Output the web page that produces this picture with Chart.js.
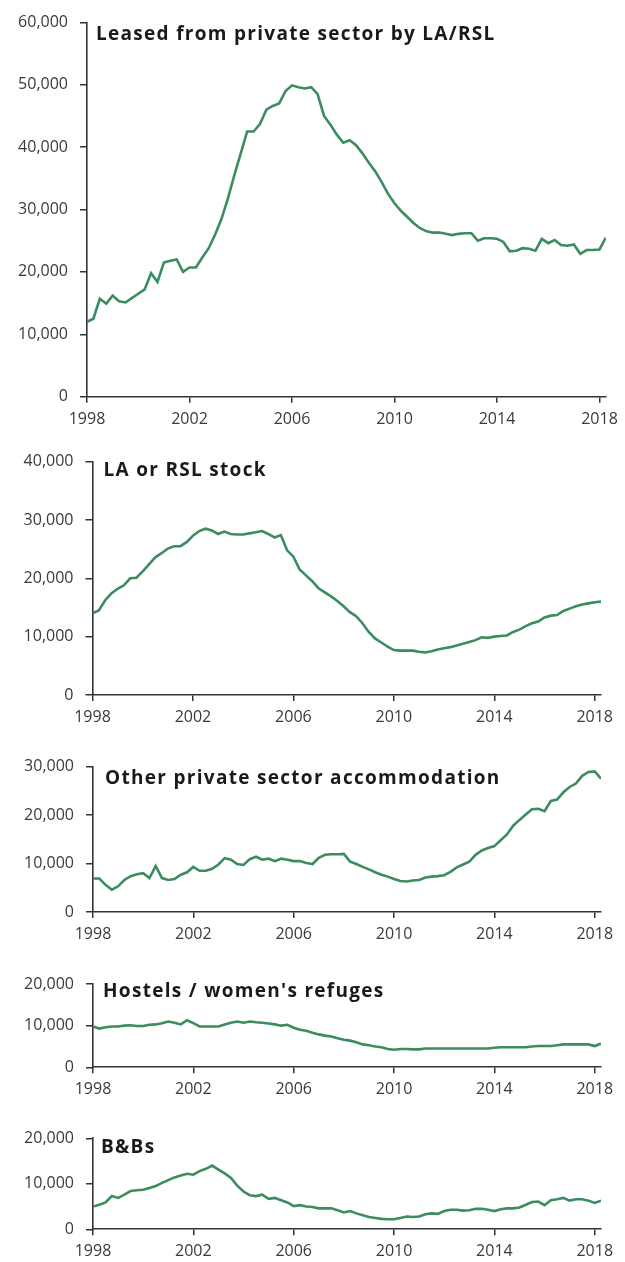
<!DOCTYPE html>
<html lang="en">
<head>
<meta charset="UTF-8">
<title>Temporary accommodation by type, 1998-2018</title>
<script src="https://cdn.jsdelivr.net/npm/chart.js"></script>
<style>
  body { margin: 0; background: #fff; }
  #wrap { position: relative; width: 625px; height: 1262px; }
  .panel { position: absolute; left: 0; width: 625px; }
</style>
</head>
<body>
<div id="wrap">
  <div class="panel" style="top:0px;height:440px"><canvas id="c1"></canvas></div>
  <div class="panel" style="top:440px;height:300px"><canvas id="c2"></canvas></div>
  <div class="panel" style="top:745px;height:210px"><canvas id="c3"></canvas></div>
  <div class="panel" style="top:960px;height:150px"><canvas id="c4"></canvas></div>
  <div class="panel" style="top:1115px;height:147px"><canvas id="c5"></canvas></div>
</div>

<script>
// quarterly points, 1998 Q1 .. 2018 Q2
const quarters = Array.from({ length: 82 }, (_, i) => 1998 + i / 4);
const yearTicks = [1998, 2002, 2006, 2010, 2014, 2018];

const leased = [
  12000, 12500, 15700, 14900, 16200, 15300, 15100, 15800, 16500, 17200,
  19800, 18400, 21500, 21800, 22000, 20000, 20700, 20700, 22300, 23800,
  26000, 28500, 31800, 35500, 39000, 42500, 42500, 43700, 46000, 46600,
  47000, 49000, 49900, 49600, 49400, 49600, 48500, 45000, 43600, 42000,
  40700, 41100, 40300, 39000, 37500, 36100, 34400, 32500, 31000, 29800,
  28800, 27800, 27000, 26500, 26300, 26300, 26100, 25900, 26100, 26200,
  26200, 25000, 25400, 25400, 25300, 24800, 23300, 23400, 23800, 23700,
  23400, 25300, 24600, 25100, 24300, 24200, 24400, 22900, 23500, 23500,
  23600, 25500
];
const laStock = [
  14000, 14500, 16200, 17400, 18200, 18800, 20000, 20100, 21200, 22400,
  23600, 24300, 25100, 25500, 25500, 26200, 27300, 28100, 28500, 28200,
  27600, 28000, 27600, 27500, 27500, 27700, 27900, 28100, 27600, 27000,
  27400, 24800, 23700, 21500, 20500, 19500, 18300, 17600, 16900, 16100,
  15200, 14200, 13500, 12300, 10800, 9700, 9000, 8300, 7700, 7600,
  7600, 7600, 7400, 7300, 7500, 7800, 8000, 8200, 8500, 8800,
  9100, 9400, 9900, 9800, 10000, 10100, 10200, 10800, 11200, 11800,
  12300, 12600, 13300, 13600, 13700, 14400, 14800, 15200, 15500, 15700,
  15900, 16000
];
const otherPrivate = [
  6900, 6900, 5600, 4600, 5300, 6600, 7400, 7800, 8000, 7000,
  9500, 7000, 6600, 6800, 7700, 8200, 9300, 8500, 8500, 8900,
  9800, 11100, 10800, 9900, 9700, 10900, 11400, 10800, 11000, 10500,
  11000, 10800, 10500, 10500, 10100, 9900, 11200, 11800, 11900, 11900,
  12000, 10400, 9900, 9300, 8800, 8200, 7700, 7300, 6800, 6400,
  6300, 6500, 6600, 7100, 7300, 7400, 7600, 8300, 9200, 9800,
  10400, 11800, 12700, 13200, 13600, 14800, 16000, 17800, 19000, 20100,
  21200, 21300, 20800, 22900, 23200, 24700, 25800, 26500, 28100, 28900,
  29000, 27500
];
const hostels = [
  9800, 9300, 9600, 9800, 9800, 10000, 10100, 9900, 9900, 10200,
  10300, 10600, 11000, 10700, 10300, 11300, 10600, 9800, 9800, 9800,
  9800, 10300, 10700, 11000, 10700, 11000, 10800, 10700, 10500, 10300,
  10000, 10200, 9500, 9000, 8800, 8300, 7900, 7600, 7400, 7000,
  6600, 6400, 6000, 5500, 5300, 5000, 4800, 4400, 4200, 4400,
  4400, 4300, 4300, 4500, 4500, 4500, 4500, 4500, 4500, 4500,
  4500, 4500, 4500, 4500, 4700, 4800, 4800, 4800, 4800, 4800,
  5000, 5100, 5100, 5100, 5300, 5500, 5500, 5500, 5500, 5500,
  5100, 5700
];
const bnb = [
  5000, 5400, 5900, 7300, 6900, 7600, 8400, 8600, 8700, 9100,
  9500, 10200, 10800, 11400, 11800, 12200, 12000, 12800, 13300, 14000,
  13100, 12300, 11300, 9600, 8300, 7500, 7300, 7600, 6700, 6900,
  6400, 5900, 5100, 5300, 5000, 4900, 4600, 4600, 4600, 4200,
  3700, 4000, 3500, 3100, 2700, 2500, 2300, 2200, 2200, 2500,
  2800, 2700, 2800, 3300, 3500, 3400, 4000, 4300, 4300, 4100,
  4200, 4500, 4500, 4300, 4000, 4400, 4600, 4600, 4800, 5400,
  6000, 6100, 5300, 6400, 6600, 6900, 6300, 6600, 6600, 6300,
  5800, 6300
];

const ticks60 = [0, 10000, 20000, 30000, 40000, 50000, 60000];
const ticks40 = [0, 10000, 20000, 30000, 40000];
const ticks30 = [0, 10000, 20000, 30000];
const ticks20 = [0, 10000, 20000];

const GREEN = '#3b8c5e';
const AXIS = '#333333';
const TEXT = '#3a3a3a';
const FONT = '"Open Sans", sans-serif';

// draws the panel heading inside the plot area, top left
const panelTitle = {
  id: 'panelTitle',
  afterDraw(chart, args, opts) {
    const { ctx, chartArea } = chart;
    ctx.save();
    ctx.font = 'bold 19px ' + FONT;
    if ('letterSpacing' in ctx) ctx.letterSpacing = '1.3px';
    ctx.fillStyle = '#1a1a1a';
    ctx.textBaseline = 'alphabetic';
    ctx.fillText(opts.text, chartArea.left + opts.dx, chartArea.top + opts.dy);
    ctx.restore();
  }
};

// box: canvas top/height and where the plot area sits on the page
function makePanel(id, title, values, yTicks, box) {
  new Chart(document.getElementById(id), {
    type: 'line',
    data: {
      datasets: [{
        data: quarters.map((q, i) => ({ x: q, y: values[i] })),
        borderColor: GREEN,
        borderWidth: 2.6,
        pointRadius: 0,
        tension: 0,
        fill: false
      }]
    },
    options: {
      responsive: true,
      maintainAspectRatio: false,
      animation: false,
      layout: { padding: { top: box.chartTop - box.top, right: 625 - box.right, bottom: 0, left: 0 } },
      plugins: {
        legend: { display: false },
        tooltip: { enabled: false },
        panelTitle: { text: title, dx: box.dx, dy: box.dy }
      },
      scales: {
        x: {
          type: 'linear',
          min: 1998,
          max: 2018.25,
          afterBuildTicks: s => { s.ticks = yearTicks.map(v => ({ value: v })); },
          afterFit: s => { s.height = box.top + box.height - box.chartBottom; },
          ticks: { callback: v => String(v), color: TEXT, font: { family: FONT, size: 16 }, padding: 7, maxRotation: 0, autoSkip: false },
          grid: { drawOnChartArea: false, drawTicks: true, tickLength: 6, color: AXIS, lineWidth: 1.5 },
          border: { display: true, color: AXIS, width: 1.6 }
        },
        y: {
          min: 0,
          max: yTicks[yTicks.length - 1],
          afterBuildTicks: s => { s.ticks = yTicks.map(v => ({ value: v })); },
          afterFit: s => { s.width = box.left; },
          ticks: { callback: v => v.toLocaleString('en-US'), color: TEXT, font: { family: FONT, size: 16 }, padding: 12 },
          grid: { drawOnChartArea: false, drawTicks: true, tickLength: 7, color: AXIS, lineWidth: 1.5 },
          border: { display: true, color: AXIS, width: 1.6 }
        }
      }
    },
    plugins: [panelTitle]
  });
}

makePanel('c1', 'Leased from private sector by LA/RSL', leased, ticks60,
  { top: 0, height: 440, chartTop: 22.3, chartBottom: 396.7, left: 87, right: 607, dx: 9, dy: 18 });
makePanel('c2', 'LA or RSL stock', laStock, ticks40,
  { top: 440, height: 300, chartTop: 459, chartBottom: 695, left: 92.5, right: 601, dx: 11, dy: 14.5 });
makePanel('c3', 'Other private sector accommodation', otherPrivate, ticks30,
  { top: 745, height: 210, chartTop: 765.7, chartBottom: 912, left: 93, right: 601, dx: 12, dy: 17.6 });
makePanel('c4', "Hostels / women's refuges", hostels, ticks20,
  { top: 960, height: 150, chartTop: 984, chartBottom: 1067.3, left: 93, right: 601, dx: 10, dy: 13.3 });
makePanel('c5', 'B&Bs', bnb, ticks20,
  { top: 1115, height: 147, chartTop: 1138.3, chartBottom: 1229.3, left: 93, right: 601, dx: 8, dy: 14.4 });
</script>
</body>
</html>
